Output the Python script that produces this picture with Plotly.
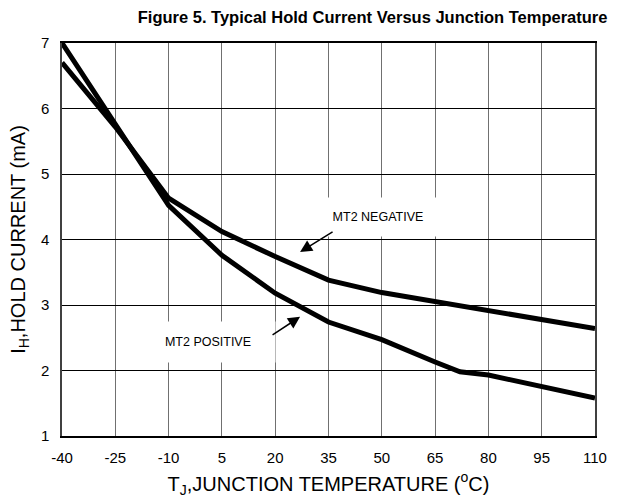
import plotly.graph_objects as go

temp_neg = [-40, -25, -10, -4, 5, 20, 35, 50, 65, 80, 95, 110]
hold_neg = [6.70, 5.72, 4.63, 4.43, 4.12, 3.74, 3.38, 3.19, 3.05, 2.91, 2.78, 2.64]

temp_pos = [-40, -25, -10, 5, 20, 35, 50, 65, 72, 80, 95, 110]
hold_pos = [7.00, 5.77, 4.52, 3.76, 3.18, 2.74, 2.47, 2.13, 1.98, 1.93, 1.75, 1.58]

x_ticks = [-40, -25, -10, 5, 20, 35, 50, 65, 80, 95, 110]
y_ticks = [1, 2, 3, 4, 5, 6, 7]

FONT = "Arial, Liberation Sans, sans-serif"

fig = go.Figure()
fig.add_trace(go.Scatter(x=temp_neg, y=hold_neg, mode="lines",
                         line=dict(color="black", width=5), name="MT2 NEGATIVE",
                         showlegend=False))
fig.add_trace(go.Scatter(x=temp_pos, y=hold_pos, mode="lines",
                         line=dict(color="black", width=5), name="MT2 POSITIVE",
                         showlegend=False))

# labels (white boxes hide the grid behind them)
fig.add_annotation(x=48.9, y=4.34, text="MT2 NEGATIVE", showarrow=False,
                   bgcolor="white", width=132, height=36,
                   font=dict(family=FONT, size=12.5, color="black"))
fig.add_annotation(x=1.1, y=2.43, text="MT2 POSITIVE", showarrow=False,
                   bgcolor="white", width=132, height=38,
                   font=dict(family=FONT, size=12.5, color="black"))
# arrows
fig.add_annotation(x=27.0, y=3.81, ax=34, ay=-21, text="", showarrow=True,
                   arrowhead=2, arrowsize=1.6, arrowwidth=1.5, arrowcolor="black", standoff=0)
fig.add_annotation(x=27.0, y=2.82, ax=-29, ay=19, text="", showarrow=True,
                   arrowhead=2, arrowsize=1.6, arrowwidth=1.5, arrowcolor="black", standoff=0)

fig.update_layout(
    width=621, height=500,
    margin=dict(l=62, r=26, t=43, b=64, autoexpand=False),
    paper_bgcolor="white", plot_bgcolor="white",
    font=dict(family=FONT, color="black"),
    title=dict(text="<b>Figure 5. Typical Hold Current Versus Junction Temperature</b>",
               x=0.6, xanchor="center", y=0.966, yanchor="middle",
               font=dict(family=FONT, size=16.5, color="black")),
)
fig.update_xaxes(range=[-40, 110], tickvals=x_ticks, ticktext=[str(v) for v in x_ticks],
                 showgrid=True, gridcolor="#707070", gridwidth=1,
                 showline=True, linecolor="black", linewidth=1.5, mirror=True,
                 ticks="", ticklabelstandoff=7, zeroline=False, automargin=False,
                 tickfont=dict(family=FONT, size=15, color="black"),
                 title=dict(text="T<sub>J</sub>,JUNCTION TEMPERATURE (<sup>o</sup>C)",
                            font=dict(family=FONT, size=20, color="black"), standoff=12))
fig.update_yaxes(range=[1, 7], tickvals=y_ticks, ticktext=[str(v) for v in y_ticks],
                 showgrid=True, gridcolor="black", gridwidth=1,
                 showline=True, linecolor="#404040", linewidth=1.5, mirror=True,
                 ticks="", ticklabelstandoff=8, zeroline=False, automargin=False,
                 tickfont=dict(family=FONT, size=15, color="black"),
                 title=dict(text="I<sub>H</sub>,HOLD CURRENT (mA)",
                            font=dict(family=FONT, size=20, color="black"), standoff=10))

fig.write_html("out.html")
